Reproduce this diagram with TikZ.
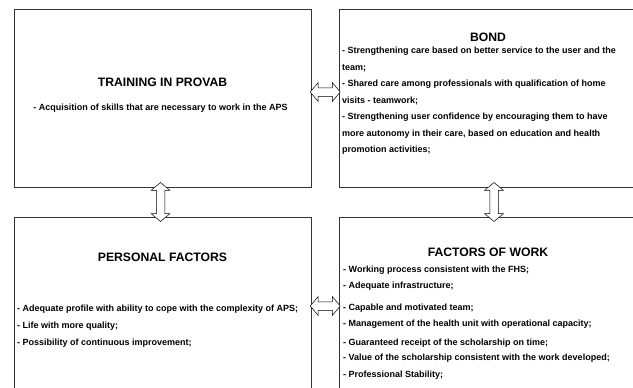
\documentclass[tikz,border=0pt]{standalone}
\usepackage{fontspec}
\setmainfont{Liberation Sans}
\usetikzlibrary{shapes.arrows,calc}

\tikzset{
  panel/.style={draw=black!80, line width=0.8pt, minimum width=297pt, minimum height=178pt, inner sep=0pt},
  heading/.style={font=\bfseries\fontsize{12.2}{14}\selectfont, inner sep=0pt},
  items/.style={font=\bfseries\fontsize{9}{16.5}\selectfont, align=left, inner sep=0pt, anchor=north west},
  link/.style={double arrow, draw=black, line width=0.5pt, fill=white, inner xsep=0pt, inner ysep=4pt,
    double arrow head extend=5pt, double arrow tip angle=100, minimum height=30pt}
}

\begin{document}
\begin{tikzpicture}[x=1pt,y=-1pt]
      \clip (0,0) rectangle (633,388);
      % the four panels
      \node[panel] (train) at (162.5,98) {};
      \node[panel] (bond) at (488,98) {};
      \node[panel] (pers) at (162.5,306) {};
      \node[panel] (work) at (488,306) {};
      % hollow arrows between the panels
      \node[link] (a1) at ($(train.east)!0.5!(bond.west)+(0,-6)$) {};
      \node[link] (a2) at ($(pers.east)!0.5!(work.west)$) {};
      \node[link,rotate=90,minimum height=39pt] (a3) at ($(train.south)!0.5!(pers.north)+(-2,0)$) {};
      \node[link,rotate=90,minimum height=39pt] (a4) at ($(bond.south)!0.5!(work.north)+(6,0)$) {};
      % titles
      \node[heading] (t1) at (162.5,82) {TRAINING IN PROVAB};
      \node[heading] (t2) at (488,37) {BOND};
      \node[heading] (t3) at (162.5,257) {PERSONAL FACTORS};
      \node[heading] (t4) at (488,252) {FACTORS OF WORK};
      % lists
      \node[font=\bfseries\fontsize{9}{11}\selectfont, inner sep=0pt] (l1) at (160.5,108)
        {- Acquisition of skills that are necessary to work in the APS};
      \node[items] (l2) at (342,47)
        {- Strengthening care based on better service to the user and the\\
         team;\\
         - Shared care among professionals with qualification of home\\
         visits - teamwork;\\
         - Strengthening user confidence by encouraging them to have\\
         more autonomy in their care, based on education and health\\
         promotion activities;};
      \node[items,font=\bfseries\fontsize{9}{17}\selectfont] (l3) at (17,305)
        {- Adequate profile with ability to cope with the complexity of APS;\\
         - Life with more quality;\\
         - Possibility of continuous improvement;};
      \node[items,font=\bfseries\fontsize{9}{16}\selectfont] (l4) at (343,266)
        {- Working process consistent with the FHS;\\
         - Adequate infrastructure;\\[6pt]
         - Capable and motivated team;\\
         - Management of the health unit with operational capacity;\\[3pt]
         - Guaranteed receipt of the scholarship on time;\\[-1pt]
         - Value of the scholarship consistent with the work developed;\\[1pt]
         - Professional Stability;};
\end{tikzpicture}
\end{document}
